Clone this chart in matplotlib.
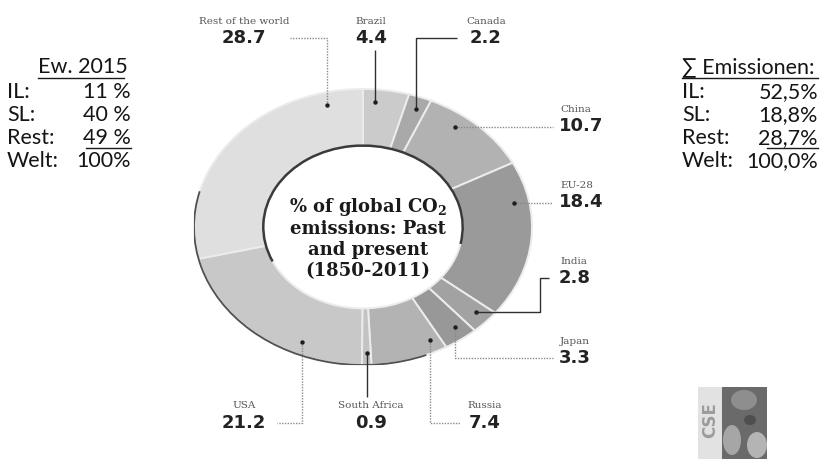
import matplotlib
matplotlib.use("Agg")
import numpy as np
import matplotlib.pyplot as plt
from matplotlib.patches import Arc, Rectangle, Ellipse

W, H = 823, 459
plt.rcParams["mathtext.fontset"] = "dejavuserif"

# Share of cumulative global CO2 emissions 1850-2011 (%), clockwise from 12 o'clock
regions = ["Brazil", "Canada", "China", "EU-28", "India", "Japan",
           "Russia", "South Africa", "USA", "Rest of the world"]
shares = [4.4, 2.2, 10.7, 18.4, 2.8, 3.3, 7.4, 0.9, 21.2, 28.7]
greys = ["#cbcbcb", "#a9a9a9", "#b2b2b2", "#9a9a9a", "#a2a2a2",
         "#989898", "#b3b3b3", "#c3c3c3", "#c8c8c8", "#dfdfdf"]

# Side tables: population share 2015 and cumulative emissions by group
group_labels = ["IL:", "SL:", "Rest:", "Welt:"]
pop_values = ["11 %", "40 %", "49 %", "100%"]
emis_values = ["52,5%", "18,8%", "28,7%", "100,0%"]

# label layout: name/value position (px), alignment, dot position inside the wedge,
# leader route from the dot, and leader style
layout = {
    "Rest of the world": dict(xy=(244, 38), ha="center", frac=0.87, route=[("y", 38), ("x", 290)], solid=False),
    "Brazil":            dict(xy=(371, 38), ha="center", frac=0.28, route=[("y", 50)], solid=True),
    "Canada":            dict(xy=(486, 38), ha="center", frac=0.56, route=[("y", 38), ("x", 457)], solid=True),
    "China":             dict(xy=(559, 126), ha="left", frac=0.34, route=[("x", 553)], solid=False),
    "EU-28":             dict(xy=(559, 202), ha="left", frac=0.25, route=[("x", 553)], solid=False),
    "India":             dict(xy=(559, 278), ha="left", frac=0.39, route=[("x", 540), ("y", 278), ("x", 549)], solid=True),
    "Japan":             dict(xy=(559, 358), ha="left", frac=0.38, route=[("y", 358), ("x", 553)], solid=False),
    "Russia":            dict(xy=(485, 423), ha="center", frac=0.14, route=[("y", 423), ("x", 460)], solid=False),
    "South Africa":      dict(xy=(371, 423), ha="center", frac=0.39, route=[("y", 397)], solid=True),
    "USA":               dict(xy=(244, 423), ha="center", frac=0.30, route=[("y", 423), ("x", 277)], solid=False),
}

fig = plt.figure(figsize=(W / 100, H / 100), dpi=100)
fig.patch.set_facecolor("white")

# elliptical doughnut
pax = fig.add_axes([194 / W, (H - 365) / H, 338 / W, 276 / H])
wedges, _ = pax.pie(shares, colors=greys, startangle=90, counterclock=False,
                    radius=1.0, wedgeprops=dict(width=0.41, edgecolor="#ececec", linewidth=1.4))
pax.set_aspect("auto")
pax.set_xlim(-1, 1)
pax.set_ylim(-1, 1)
pax.axis("off")
# shaded rims
pax.add_patch(Arc((0, 0), 2.0, 2.0, theta1=165, theta2=292, color="#505050", lw=1.3))
pax.add_patch(Arc((0, 0), 1.18, 1.18, theta1=-12, theta2=205, color="#3a3a3a", lw=1.8))

# overlay for text and leaders in pixel coordinates
ax = fig.add_axes([0, 0, 1, 1], facecolor="none")
ax.set_xlim(0, W)
ax.set_ylim(H, 0)
ax.axis("off")

to_px = ax.transData.inverted()
for name, share, wedge in zip(regions, shares, wedges):
    spec = layout[name]
    ang = np.deg2rad(wedge.theta2 - spec["frac"] * (wedge.theta2 - wedge.theta1))
    r = 0.91
    disp = pax.transData.transform((r * np.cos(ang), r * np.sin(ang)))
    dx, dy = to_px.transform(disp)
    xs, ys = [dx], [dy]
    for axis_name, v in spec["route"]:
        if axis_name == "y":
            xs.append(xs[-1]); ys.append(v)
        else:
            xs.append(v); ys.append(ys[-1])
    if spec["solid"]:
        ax.plot(xs, ys, color="#303030", lw=1.0, solid_capstyle="butt")
    else:
        ax.plot(xs, ys, color="#8a8a8a", lw=1.0, linestyle=(0, (1, 1)))
    ax.plot(dx, dy, "o", color="#1e1e1e", ms=3.2, mec="none")
    tx, ty = spec["xy"]
    ax.text(tx, ty, f"{share:.1f}", ha=spec["ha"], va="center", fontsize=13,
            fontweight="bold", family="DejaVu Sans", color="#222222")
    ax.text(tx + (1 if spec["ha"] == "left" else 0), ty - 17, name, ha=spec["ha"], va="center",
            fontsize=7.5, family="DejaVu Serif", color="#555555")

# centre title
title_lines = [r"% of global CO$_{\mathbf{2}}$", "emissions: Past", "and present", "(1850-2011)"]
for i, line in enumerate(title_lines):
    ax.text(368, 207 + i * 21.5, line, ha="center", va="center", fontsize=13,
            fontweight="bold", family="DejaVu Serif", color="#1a1a1a")

# left table
tfont = dict(family="Lato", fontsize=15.5, color="#151515", va="center")
rows_y = [92, 115, 138, 161]
ax.text(38, 67, "Ew. 2015", ha="left", **tfont)
ax.plot([38, 124], [78, 78], color="#1a1a1a", lw=1.0)
for lab, val, y in zip(group_labels, pop_values, rows_y):
    ax.text(7, y, lab, ha="left", **tfont)
    ax.text(131, y, val, ha="right", **tfont)
ax.plot([86, 131], [148, 148], color="#1a1a1a", lw=1.0)

# right table
ax.text(682, 67, "\u2211 Emissionen:", ha="left", **tfont)
ax.plot([682, 818], [78, 78], color="#1a1a1a", lw=1.0)
for lab, val, y in zip(group_labels, emis_values, rows_y):
    ax.text(682, y, lab, ha="left", **tfont)
    ax.text(818, y, val, ha="right", **tfont)
ax.plot([767, 818], [148, 148], color="#1a1a1a", lw=1.0)

# CSE logo: lettered strip and photo panel
ax.add_patch(Rectangle((698, 387), 24, 72, facecolor="#e2e2e2", edgecolor="none"))
ax.text(710, 420, "CSE", rotation=90, ha="center", va="center", fontsize=12,
        fontweight="bold", family="DejaVu Sans", color="#9c9c9c")
ax.add_patch(Rectangle((722, 387), 45, 72, facecolor="#6a6a6a", edgecolor="none"))
ax.add_patch(Ellipse((744, 400), 26, 20, facecolor="#8e8e8e", edgecolor="none"))
ax.add_patch(Ellipse((732, 440), 18, 30, facecolor="#a6a6a6", edgecolor="none"))
ax.add_patch(Ellipse((757, 445), 20, 26, facecolor="#b4b4b4", edgecolor="none"))
ax.add_patch(Ellipse((750, 420), 12, 10, facecolor="#4e4e4e", edgecolor="none"))

fig.savefig("out.png", dpi=100)
